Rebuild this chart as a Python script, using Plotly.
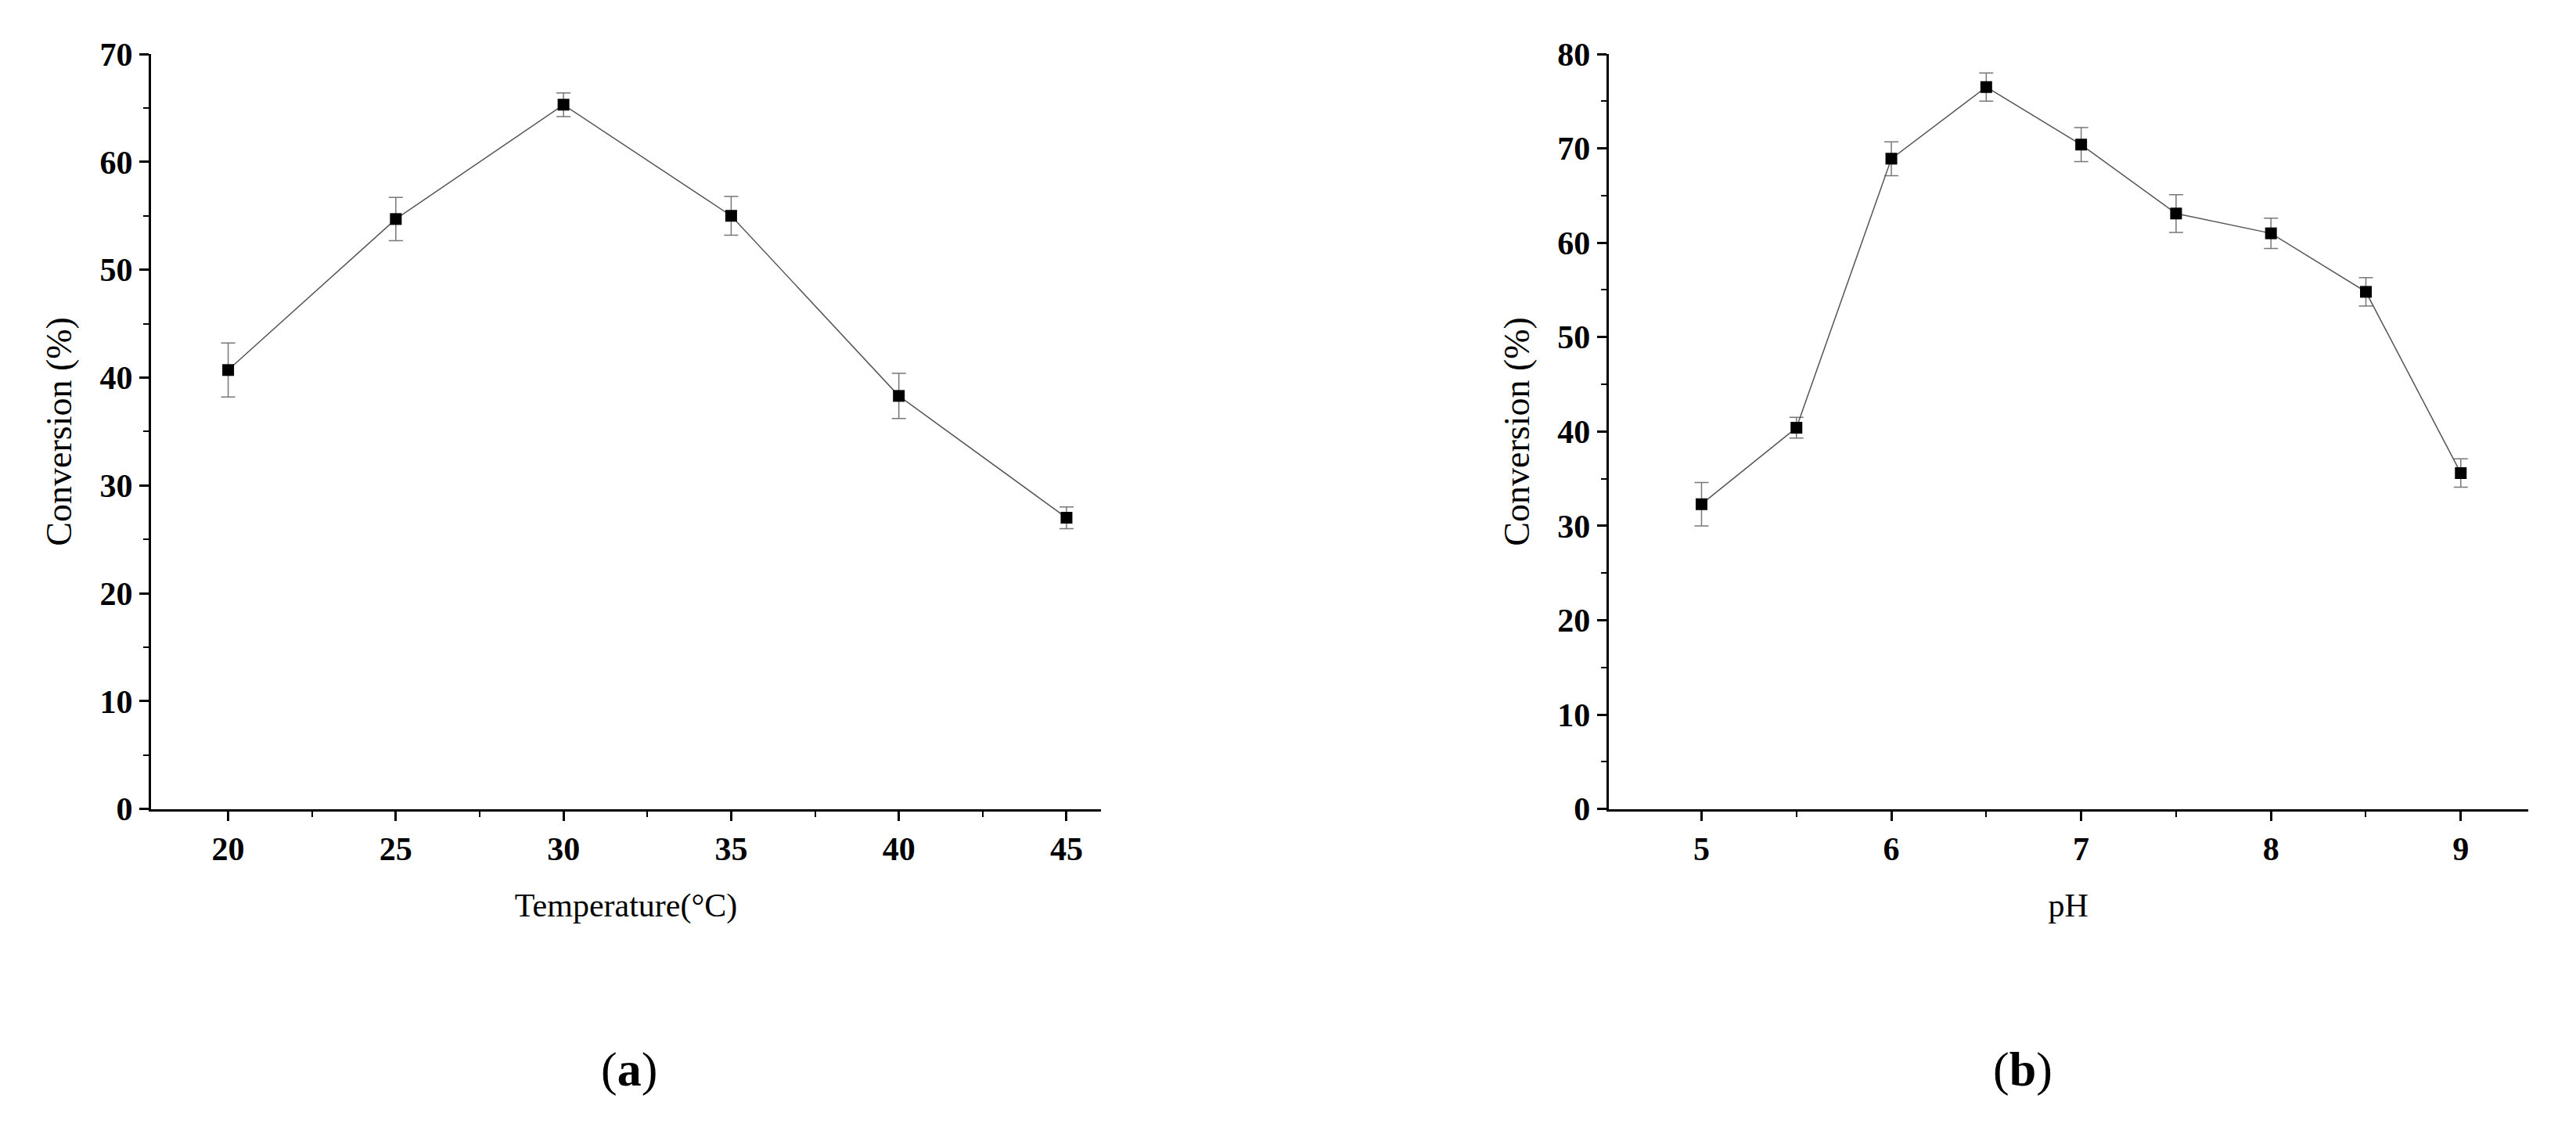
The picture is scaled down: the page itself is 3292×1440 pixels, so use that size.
import plotly.graph_objects as go

temp = [20, 25, 30, 35, 40, 45]
conv_t = [40.7, 54.7, 65.3, 55.0, 38.3, 27.0]
err_t = [2.5, 2.0, 1.1, 1.8, 2.1, 1.0]

ph = [5, 5.5, 6, 6.5, 7, 7.5, 8, 8.5, 9]
conv_p = [32.3, 40.4, 68.9, 76.5, 70.4, 63.1, 61.0, 54.8, 35.6]
err_p = [2.3, 1.1, 1.8, 1.5, 1.8, 2.0, 1.6, 1.5, 1.5]

fig = go.Figure()
def add(x, y, e, xa, ya):
    fig.add_trace(go.Scatter(x=x, y=y, xaxis=xa, yaxis=ya, mode="lines+markers",
        line=dict(color="#555555", width=1.5),
        marker=dict(symbol="square", size=15, color="black"),
        error_y=dict(type="data", array=e, color="#777777", thickness=1.5, width=9),
        showlegend=False))
add(temp, conv_t, err_t, "x", "y")
add(ph, conv_p, err_p, "x2", "y2")

tf = dict(family="Liberation Serif", size=42, color="black")
yf = dict(family="Liberation Serif", size=46, color="black")
common = dict(showline=True, linecolor="black", linewidth=3, ticks="outside", ticklen=12,
              tickwidth=2.5, tickcolor="black", showgrid=False, zeroline=False,
              tickfont=dict(family="Liberation Serif", size=42, color="black", weight="bold"),
              minor=dict(ticks="outside", ticklen=7, tickwidth=2, tickcolor="black"))
fig.update_layout(
    width=3292, height=1440, plot_bgcolor="white", paper_bgcolor="white",
    margin=dict(l=0, r=0, t=0, b=0),
    xaxis=dict(domain=[0.0562, 0.425], range=[17.7, 46.03], tickvals=temp, anchor="y",
               title=dict(text="Temperature(°C)", font=tf, standoff=35), **common),
    yaxis=dict(domain=[0.28, 0.972], range=[0, 70], dtick=10, anchor="x",
               title=dict(text="Conversion (%)", font=yf, standoff=22), **common),
    xaxis2=dict(domain=[0.622, 0.979], range=[4.51, 9.355], tickvals=[5, 6, 7, 8, 9], anchor="y2",
                title=dict(text="pH", font=tf, standoff=35), **common),
    yaxis2=dict(domain=[0.28, 0.972], range=[0, 80], dtick=10, anchor="x2",
                title=dict(text="Conversion (%)", font=yf, standoff=22), **common),
)
fig.layout.xaxis.minor.dtick = 2.5
fig.layout.xaxis.minor.tick0 = 20
fig.layout.xaxis2.minor.dtick = 0.5
fig.layout.xaxis2.minor.tick0 = 5
fig.layout.yaxis.minor.dtick = 5
fig.layout.yaxis2.minor.dtick = 5
for txt, x in [("a", 0.2303), ("b", 0.795)]:
    fig.add_annotation(text="(<b>%s</b>)" % txt, x=x, y=0.015, xref="paper", yref="paper",
                       showarrow=False, font=dict(family="Liberation Serif", size=62, color="black"))
fig.write_html("out.html")
